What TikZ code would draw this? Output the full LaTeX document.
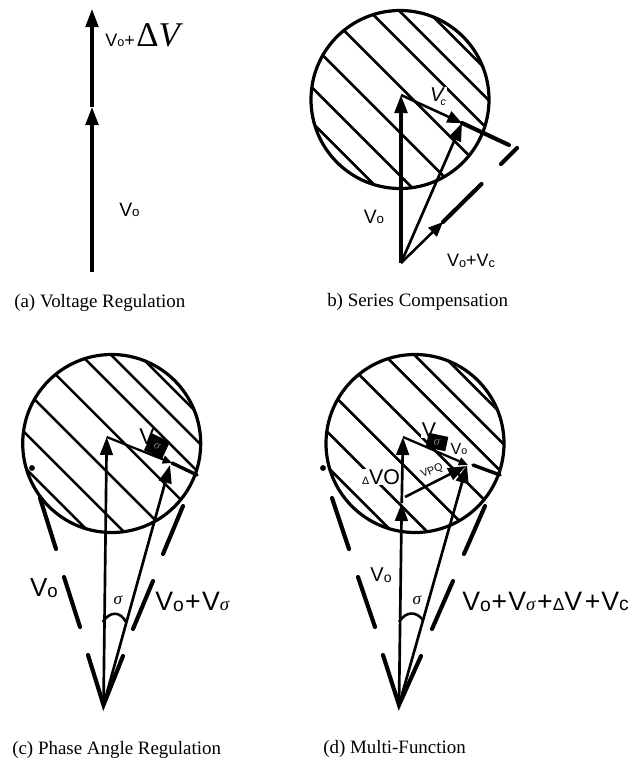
\documentclass[tikz,border=0pt]{standalone}
\usepackage{fontspec}
\setmainfont{Liberation Serif}
\setsansfont{Liberation Sans}
\usetikzlibrary{arrows.meta}
\tikzset{
  x=.75pt,y=-.75pt,
  disc/.style={line width=2.4pt},
  hatch/.style={line width=1.9pt},
  vec/.style={line width=2.4pt,-{Triangle[length=13.5pt,width=9.5pt]}},
  thinvec/.style={line width=1.9pt,-{Triangle[length=11pt,width=9pt]}},
  thickseg/.style={line width=3.1pt,line cap=round},
  anglearc/.style={line width=1.9pt},
  captext/.style={font=\rmfamily\fontsize{14.2pt}{16pt}\selectfont,anchor=base west,inner sep=0},
  lbl/.style={font=\sffamily,inner sep=0},
  mask/.style={fill=white,inner sep=.5pt},
  blackbox/.style={fill=black,text=gray,inner sep=0,font=\rmfamily\itshape\fontsize{9pt}{9pt}\selectfont,align=center}
}
\newcommand{\szV}[2]{{\fontsize{#1pt}{#1pt}\selectfont V}{\fontsize{#2pt}{#2pt}\selectfont\raisebox{-.5pt}{o}}}
\newcommand{\discat}[3]{% name, x, y
  \coordinate (#1) at (#2,#3);
  \begin{scope}
    \clip (#1) circle[radius=66.75pt];
    \foreach \d in {116,88,58,13,-33,-76,-111}{
      \draw[hatch] ([shift={(\d/2-120,-\d/2-120)}]#1) -- ([shift={(\d/2+120,-\d/2+120)}]#1);
    }
  \end{scope}
  \draw[disc] (#1) circle[radius=66.75pt];
}
\begin{document}
\begin{tikzpicture}
\useasboundingbox (0,0) rectangle (633,760);

% ---------- (a)
\coordinate (aO) at (92,272);
\coordinate (aM) at (92,107);
\coordinate (aT) at (92,9);
\draw[vec] (aO) -- (aM);
\draw[vec] (aM) -- (aT);
\node[lbl,anchor=base west] (aL1) at (105,46) {\szV{13.5}{9.5}\fontsize{13.5pt}{13.5pt}\selectfont+};
\node[font=\rmfamily\fontsize{26pt}{26pt}\selectfont,inner sep=0,anchor=base west] (aL2) at (136,46.5) {Δ\textit{V}};
\node[lbl] (aL3) at (129.5,210) {\szV{14.5}{10}};
\node[captext] (aC) at (14,307) {(a) Voltage Regulation};

% ---------- (b)
\discat{bC}{400}{99.5}
\coordinate (bO) at (401,263);
\coordinate (bA) at (401,95);
\coordinate (bB) at (462,123);
\coordinate (bE) at (509,145);
\coordinate (bD1) at (501,164);
\coordinate (bD2) at (517,148);
\coordinate (bF) at (481.5,184);
\coordinate (bG) at (443,222);
\node[mask,font=\sffamily\itshape\fontsize{15pt}{15pt}\selectfont] (bLc) at (438,97) {V\kern-2pt\raisebox{-3pt}{\fontsize{8pt}{8pt}\selectfont c}};
\draw[vec] (bO) -- (bA);
\draw[vec,line width=2pt] (bO) -- (bB);
\draw[thinvec] (bA) -- (bB);
\draw[thickseg] (bB) -- (bE);
\draw[thickseg] (bD1) -- (bD2);
\draw[thinvec] (bO) -- (bG);
\draw[thickseg] (bG) -- (bF);
\node[lbl] (bL1) at (374,217) {\szV{14.5}{10}};
\node[lbl] (bL2) at (471,261) {\szV{13.5}{9.5}\fontsize{13.5pt}{13.5pt}\selectfont+V\fontsize{9.5pt}{9.5pt}\selectfont\raisebox{-.5pt}{c}};
\node[captext] (bCp) at (327,306) {b) Series Compensation};

% ---------- (c)
\discat{cC}{111.7}{443.5}
\coordinate (cO) at (103.5,705);
\coordinate (cA) at (106.7,437);
\coordinate (cB) at (170,465);
\coordinate (cE) at (197,475);
\coordinate (cDot) at (32,468);
\fill (cDot) circle[radius=2.2pt];
\draw[vec,line width=2pt] (cO) -- (cA);
\draw[vec,line width=2pt] (cO) -- (cB);
\draw[thinvec,line width=1.7pt,-{Triangle[length=7pt,width=6pt]}] (cA) -- (172,463);
\draw[thickseg,line width=2.6pt] (172,463) -- (cE);
\node[font=\sffamily\fontsize{17pt}{17pt}\selectfont,inner sep=0] (cLv) at (147,437) {V};
\node[blackbox,rotate=-25,minimum width=15pt,minimum height=14pt] (cBox) at (157,446) {σ};
\draw[thickseg] (40,498) -- (56,549);
\draw[thickseg] (64,577) -- (80,627);
\draw[thickseg] (183,506) -- (163,554);
\draw[thickseg] (153,581) -- (133,629);
\draw[thickseg] (88,655) -- (cO) -- (123,656);
\draw[anglearc] (102.7,622) .. controls (110,611) and (120,611) .. (126,622);
\node[font=\rmfamily\itshape\fontsize{13pt}{13pt}\selectfont,inner sep=0] (cS) at (118,600) {σ};
\node[lbl] (cL1) at (44,588) {\szV{19.5}{14}};
\node[lbl,anchor=west] (cL2) at (155,602) {\szV{20}{14.5}\fontsize{20pt}{20pt}\selectfont\kern1pt+\kern1pt V{\rmfamily\itshape\fontsize{14pt}{14pt}\selectfont σ}};
\node[captext] (cCp) at (12,754) {(c) Phase Angle Regulation};

% ---------- (d)
\discat{dC}{415}{443.5}
\coordinate (dO) at (399,705);
\coordinate (dM) at (401.7,503);
\coordinate (dA) at (403,437);
\coordinate (dB) at (467,465);
\coordinate (dP) at (405,497);
\coordinate (dQ) at (466,466);
\coordinate (dE) at (500,475);
\coordinate (dDot) at (323,468);
\fill (dDot) circle[radius=2.2pt];
\node[mask,font=\sffamily\fontsize{14pt}{14pt}\selectfont] (dLo) at (459,449) {\szV{12}{8}};
\node[mask,font=\sffamily\fontsize{8pt}{8pt}\selectfont,rotate=22] (dLpq) at (432,471) {VPQ};
\node[mask,font=\sffamily] (dLd) at (381,477) {{\fontsize{8pt}{8pt}\selectfont Δ}{\fontsize{16pt}{16pt}\selectfont VO}};
\node[mask,font=\sffamily\fontsize{16pt}{16pt}\selectfont] (dLv) at (429,430) {V};
\draw[vec,line width=2pt] (dO) -- (dM);
\draw[vec,line width=2pt] (dM) -- (dA);
\draw[vec,line width=2pt] (dO) -- (dB);
\draw[thinvec,line width=1.7pt,-{Triangle[length=7pt,width=6pt]}] (dA) -- (468,465);
\draw[vec,line width=1.9pt] (dP) -- (dQ);
\draw[thickseg,line width=2.6pt] (473,465) -- (dE);
\node[blackbox,rotate=-12,minimum width=15pt,minimum height=11pt] (dBox) at (437,442) {σ};
\draw[thickseg] (332,498) -- (349,549);
\draw[thickseg] (358,577) -- (375,627);
\draw[thickseg] (485,506) -- (464,554);
\draw[thickseg] (453,581) -- (432,629);
\draw[thickseg] (383,655) -- (dO) -- (421,656);
\draw[anglearc] (399,622) .. controls (406,611) and (416,611) .. (423,620);
\node[font=\rmfamily\itshape\fontsize{13pt}{13pt}\selectfont,inner sep=0] (dS) at (417,600) {σ};
\node[lbl] (dL1) at (381,575) {\szV{15}{10.5}};
\node[lbl,anchor=west,font=\sffamily\fontsize{20pt}{20pt}\selectfont] (dL2) at (462,602) {\szV{20}{14.5}\kern.7pt+\kern.7pt V{\rmfamily\itshape\fontsize{14pt}{14pt}\selectfont σ}\kern1.5pt+{\fontsize{13pt}{13pt}\selectfont Δ}V\kern2pt+\kern.7pt V{\fontsize{14.5pt}{14.5pt}\selectfont c}};
\node[captext] (dCp) at (323,753) {(d) Multi-Function};
\end{tikzpicture}
\end{document}
